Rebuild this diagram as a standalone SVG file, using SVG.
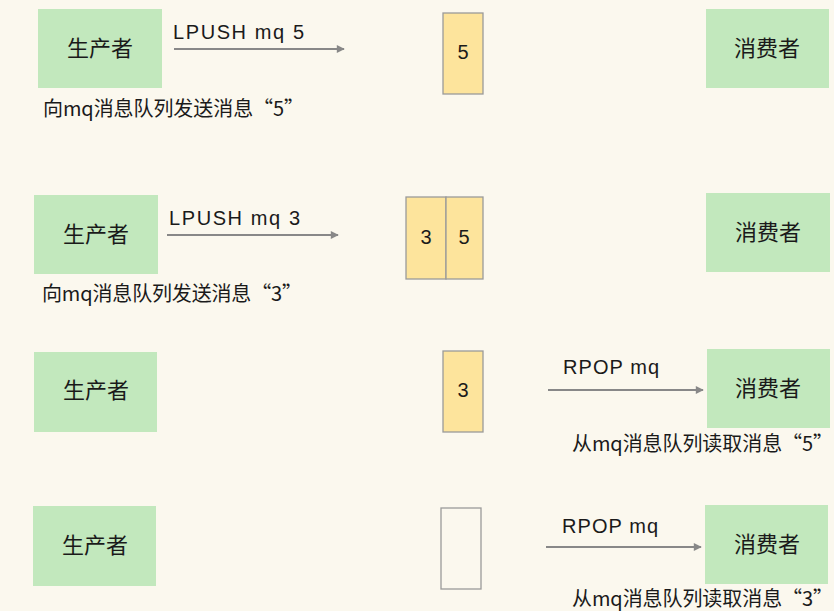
<svg xmlns="http://www.w3.org/2000/svg" width="834" height="611" viewBox="0 0 834 611">
<style>
.bg{fill:#fbf8ee}
.node{fill:#c2e8bd}
.q{fill:#fde49c;stroke:#9a9a9a;stroke-width:1.3}
.qe{fill:none;stroke:#9a9a9a;stroke-width:1.3}
.nt{font-family:"Noto Sans CJK SC","Noto Sans",sans-serif;font-size:22px;fill:#1a1a1a;text-anchor:middle}
.cap{font-family:"Noto Sans CJK SC","Noto Sans",sans-serif;font-size:20px;fill:#1a1a1a}
.lbl{font-family:"Liberation Sans",Arial,sans-serif;font-size:20px;fill:#1a1a1a}
.dg{font-family:"Liberation Sans",Arial,sans-serif;font-size:20px;fill:#1a1a1a;text-anchor:middle}
.ar{stroke:#888;stroke-width:2;fill:none;marker-end:url(#ah)}
</style>
<defs>
<marker id="ah" viewBox="0 0 10 10" refX="9" refY="5" markerWidth="5" markerHeight="4" markerUnits="strokeWidth" orient="auto">
<path d="M0,0 L10,5 L0,10 z" fill="#888"/>
</marker>
</defs>
<rect class="bg" x="0" y="0" width="834" height="611"/>

<g id="producer1"><rect class="node" x="38" y="9" width="124" height="79"/><text class="nt" x="100" y="56">生产者</text></g>
<g id="queue1"><rect class="q" x="443" y="13" width="40" height="81"/><text class="dg" x="463" y="59">5</text></g>
<g id="consumer1"><rect class="node" x="706" y="9" width="123" height="79"/><text class="nt" x="767" y="56">消费者</text></g>

<g id="producer2"><rect class="node" x="34" y="195" width="124" height="79"/><text class="nt" x="96" y="242">生产者</text></g>
<g id="queue2"><rect class="q" x="406" y="197" width="40" height="82"/><rect class="q" x="446" y="197" width="37" height="82"/><text class="dg" x="426" y="244">3</text><text class="dg" x="464" y="244">5</text></g>
<g id="consumer2"><rect class="node" x="706" y="193" width="124" height="79"/><text class="nt" x="768" y="240">消费者</text></g>

<g id="producer3"><rect class="node" x="34" y="352" width="123" height="80"/><text class="nt" x="96" y="398">生产者</text></g>
<g id="queue3"><rect class="q" x="443" y="351" width="40" height="81"/><text class="dg" x="463" y="397">3</text></g>
<g id="consumer3"><rect class="node" x="707" y="349" width="123" height="79"/><text class="nt" x="768" y="396">消费者</text></g>

<g id="producer4"><rect class="node" x="33" y="506" width="123" height="80"/><text class="nt" x="95" y="553">生产者</text></g>
<g id="queue4"><rect class="qe" x="441" y="508" width="40" height="81"/></g>
<g id="consumer4"><rect class="node" x="705" y="505" width="123" height="79"/><text class="nt" x="767" y="552">消费者</text></g>

<g id="connectors">
<line class="ar" x1="174" y1="49" x2="344" y2="49"/>
<line class="ar" x1="167" y1="235" x2="338" y2="235"/>
<line class="ar" x1="548" y1="390" x2="703" y2="390"/>
<line class="ar" x1="546" y1="547" x2="701" y2="547"/>
</g>

<g id="labels">
<text class="lbl" x="173" y="39" textLength="131" lengthAdjust="spacing">LPUSH mq 5</text>
<text class="lbl" x="169" y="225" textLength="131" lengthAdjust="spacing">LPUSH mq 3</text>
<text class="lbl" x="563" y="374" textLength="96" lengthAdjust="spacing">RPOP mq</text>
<text class="lbl" x="562" y="533" textLength="96" lengthAdjust="spacing">RPOP mq</text>
<text class="cap" x="43" y="116" textLength="261" lengthAdjust="spacing">向mq消息队列发送消息“5”</text>
<text class="cap" x="42" y="301" textLength="260" lengthAdjust="spacing">向mq消息队列发送消息“3”</text>
<text class="cap" x="572" y="451" textLength="261" lengthAdjust="spacing">从mq消息队列读取消息“5”</text>
<text class="cap" x="572" y="606" textLength="261" lengthAdjust="spacing">从mq消息队列读取消息“3”</text>
</g>
</svg>
